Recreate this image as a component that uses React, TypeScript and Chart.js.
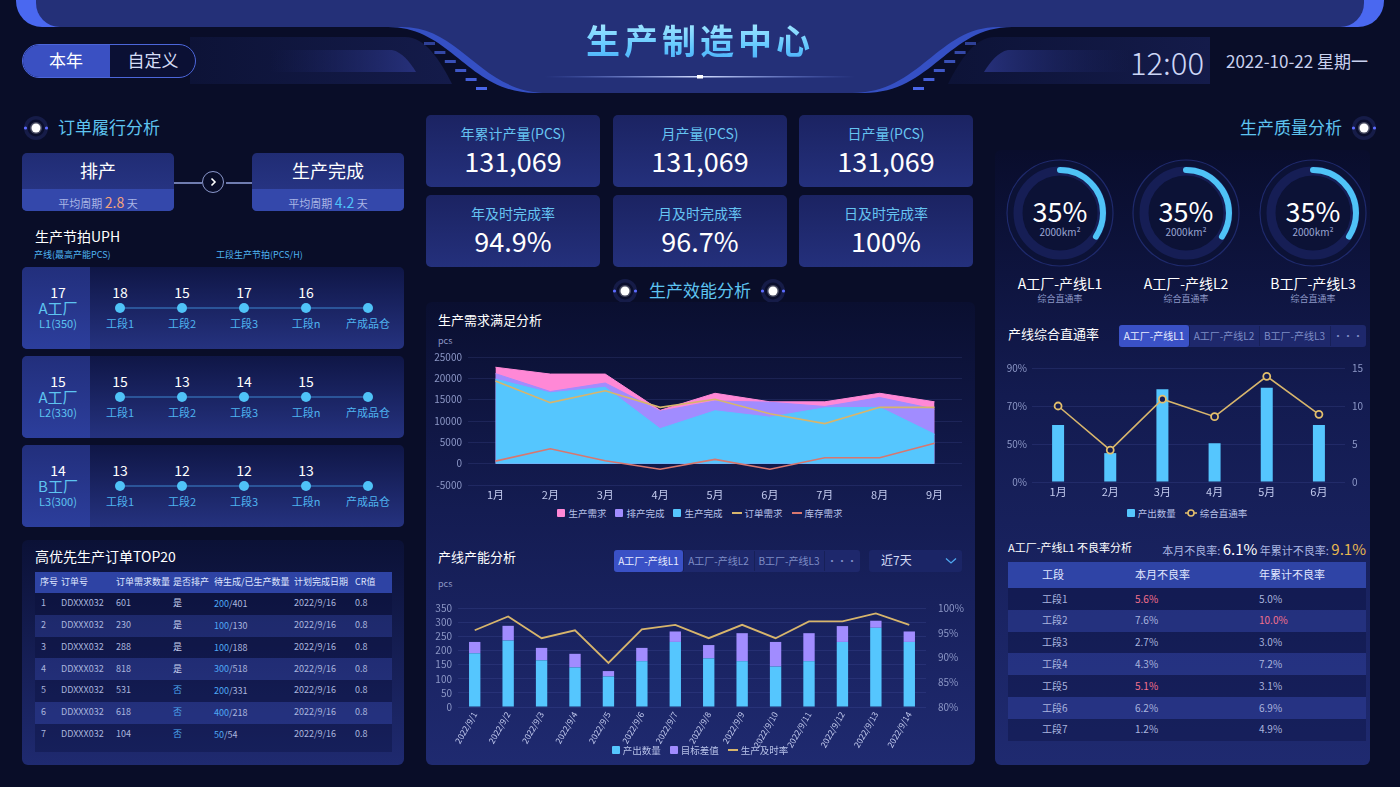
import React, { useEffect, useRef } from 'react';
import { Chart, registerables } from 'chart.js';

Chart.register(...registerables);

const FONT = '"Noto Sans CJK SC","Noto Sans",sans-serif';

// ---------- 生产需求满足分析 ----------
const demandMonths = ['1月', '2月', '3月', '4月', '5月', '6月', '7月', '8月', '9月'];
const demandSeriesNames = ['生产需求', '排产完成', '生产完成', '订单需求', '库存需求'];
const prodDemand = [22600, 21000, 21000, 12500, 16500, 14500, 14500, 16500, 14500];
const schedDone = [21100, 16900, 18900, 12300, 14700, 14400, 13400, 15500, 12800];
const prodDone = [19800, 16600, 17900, 8200, 12400, 10900, 13100, 13200, 6900];
const orderDemand = [19400, 14300, 17100, 13200, 15100, 11700, 9400, 13200, 13200];
const stockDemand = [600, 3500, 700, -1300, 1000, -1300, 1400, 1400, 4800];

// ---------- 产线产能分析 ----------
const capDates = ['2022/9/1', '2022/9/2', '2022/9/3', '2022/9/4', '2022/9/5', '2022/9/6', '2022/9/7',
  '2022/9/8', '2022/9/9', '2022/9/10', '2022/9/11', '2022/9/12', '2022/9/13', '2022/9/14'];
const capSeriesNames = ['产出数量', '目标差值', '生产及时率'];
const capOutput = [190, 235, 165, 140, 108, 162, 230, 172, 162, 143, 162, 230, 280, 230];
const capGap = [40, 52, 44, 48, 19, 47, 37, 47, 99, 87, 99, 56, 25, 37];
const capOnTime = [95.5, 98.3, 93.9, 95.5, 88.9, 95.7, 96.6, 93.9, 96.6, 93.9, 97.3, 97.3, 98.9, 96.6];

// ---------- 产线综合直通率 ----------
const passMonths = ['1月', '2月', '3月', '4月', '5月', '6月'];
const passSeriesNames = ['产出数量', '综合直通率'];
const passOutput = [7.5, 3.8, 12.2, 5.1, 12.4, 7.5];
const passRate = [10.0, 4.2, 10.9, 8.6, 13.9, 8.9];
const passLeftTicks = ['0%', '50%', '70%', '90%'];

// ---------- 其它面板数据 ----------
const kpiLabels = ['年累计产量(PCS)', '月产量(PCS)', '日产量(PCS)', '年及时完成率', '月及时完成率', '日及时完成率'];
const kpiValues = ['131,069', '131,069', '131,069', '94.9%', '96.7%', '100%'];

const uphTotals = ['17', '15', '14'];
const uphFactories = ['A工厂', 'A工厂', 'B工厂'];
const uphLineNames = ['L1(350)', 'L2(330)', 'L3(300)'];
const uphStations = [['18', '15', '17', '16'], ['15', '13', '14', '15'], ['13', '12', '12', '13']];
const stationNames = ['工段1', '工段2', '工段3', '工段n', '产成品仓'];

const orderHeaders = ['序号', '订单号', '订单需求数量', '是否排产', '待生成/已生产数量', '计划完成日期', 'CR值'];
const orderQty = ['601', '230', '288', '818', '531', '618', '104'];
const orderScheduled = ['是', '是', '是', '是', '否', '否', '否'];
const orderPending = ['200', '100', '100', '300', '200', '400', '50'];
const orderDoneQty = ['401', '130', '188', '518', '331', '218', '54'];

const gaugeValues = [35, 35, 35];
const gaugeNames = ['A工厂-产线L1', 'A工厂-产线L2', 'B工厂-产线L3'];

const defectStations = ['工段1', '工段2', '工段3', '工段4', '工段5', '工段6', '工段7'];
const defectMonth = ['5.6%', '7.6%', '2.7%', '4.3%', '5.1%', '6.2%', '1.2%'];
const defectYear = ['5.0%', '10.0%', '3.0%', '7.2%', '3.1%', '6.9%', '4.9%'];
const defectMonthAlert = [true, false, false, false, true, false, false];
const defectYearAlert = [false, true, false, false, false, false, false];

// ---------- colours ----------
const C_PINK = '#ff88d6';
const C_PURPLE = '#a18cff';
const C_CYAN = '#55c6fe';
const C_GOLD = '#d7b56c';
const C_SALMON = '#d8776f';

// ---------- helpers ----------
type TP = { x: number; y: number; size: number; color: string; children: any; anchor?: 'start' | 'middle' | 'end'; weight?: number; style?: any };
function T({ x, y, size, color, children, anchor = 'start', weight = 400, style }: TP) {
  return (
    <div style={{
      position: 'absolute', left: x, top: y - size * 0.65, fontSize: size, lineHeight: `${size * 1.2}px`,
      color, whiteSpace: 'nowrap', fontWeight: weight, fontFamily: FONT,
      transform: anchor === 'middle' ? 'translateX(-50%)' : anchor === 'end' ? 'translateX(-100%)' : undefined,
      ...style,
    }}>{children}</div>
  );
}

function Box({ x, y, w, h, bg, r = 0, style }: any) {
  return <div style={{ position: 'absolute', left: x, top: y, width: w, height: h, background: bg, borderRadius: r, ...style }} />;
}

type LegendItem = { label: string; color: string; kind: 'rect' | 'line' | 'dot' };
function Legend({ cx, y, items }: { cx: number; y: number; items: LegendItem[] }) {
  return (
    <div style={{
      position: 'absolute', left: cx - 250, width: 500, top: y - 8, height: 16, display: 'flex',
      justifyContent: 'center', alignItems: 'center', gap: 9, fontFamily: FONT, fontSize: 9.5,
      color: '#b7c1e8', whiteSpace: 'nowrap',
    }}>
      {items.map((it, i) => (
        <div key={i} style={{ display: 'flex', alignItems: 'center', gap: 3 }}>
          {it.kind === 'rect' && <div style={{ width: 8, height: 8, background: it.color, borderRadius: 1 }} />}
          {it.kind === 'line' && <div style={{ width: 10, height: 2, background: it.color }} />}
          {it.kind === 'dot' && (
            <svg width={12} height={10}>
              <line x1={0} y1={5} x2={12} y2={5} stroke={it.color} strokeWidth={1.5} />
              <circle cx={6} cy={5} r={3} fill="#141b52" stroke={it.color} strokeWidth={1.6} />
            </svg>
          )}
          <span style={{ lineHeight: '14px' }}>{it.label}</span>
        </div>
      ))}
    </div>
  );
}

function SecIcon({ x, y }: { x: number; y: number }) {
  return (
    <svg style={{ position: 'absolute', left: x - 15, top: y - 15 }} width={30} height={30}>
      <circle cx={15} cy={15} r={12} fill="#161c48" />
      <circle cx={15} cy={15} r={8.5} fill="#0a0e2c" />
      <circle cx={15} cy={15} r={6} fill="#ffffff" opacity={0.25} />
      <circle cx={15} cy={15} r={4.5} fill="#ffffff" />
      <circle cx={4.5} cy={15} r={1.6} fill="#5d6cff" />
      <circle cx={25.5} cy={15} r={1.6} fill="#5d6cff" />
    </svg>
  );
}

function Tabs({ x, y, widths, labels, h = 22 }: { x: number; y: number; widths: number[]; labels: string[]; h?: number }) {
  let cx = x;
  const total = widths.reduce((a, b) => a + b, 0);
  return (
    <>
      <Box x={x} y={y} w={total} h={h} bg="#1e286c" r={3} />
      {widths.map((w, i) => {
        const left = cx;
        cx += w;
        return (
          <React.Fragment key={i}>
            {i === 0 && <Box x={left} y={y} w={w} h={h} bg="#3a51c6" r={3} />}
            {i > 0 && <Box x={left} y={y + 1} w={1} h={h - 2} bg="#172058" />}
            <T x={left + w / 2} y={y + h / 2} size={10} color={i === 0 ? '#e8ecff' : '#7f8dc6'} anchor="middle">{labels[i]}</T>
          </React.Fragment>
        );
      })}
    </>
  );
}

function Gauge({ cx, cy, pct }: { cx: number; cy: number; pct: number }) {
  const R = 42;
  const C = 2 * Math.PI * R;
  return (
    <svg style={{ position: 'absolute', left: cx - 56, top: cy - 56 }} width={112} height={112}>
      <circle cx={56} cy={56} r={53} fill="#0c1236" stroke="#1f2a6c" strokeWidth={1.2} />
      <circle cx={56} cy={56} r={R} fill="none" stroke="#161e55" strokeWidth={9} />
      <circle cx={56} cy={56} r={R + 1} fill="none" stroke="#4fc3f7" strokeWidth={6} strokeLinecap="round"
        strokeDasharray={`${(C * pct) / 100} ${C * 2}`} transform="rotate(-90 56 56)" />
    </svg>
  );
}

function useChart(build: () => any) {
  const ref = useRef<HTMLCanvasElement>(null);
  useEffect(() => {
    const chart = new Chart(ref.current as HTMLCanvasElement, build());
    return () => chart.destroy();
  }, []);
  return ref;
}

const gridColor = 'rgba(110,130,220,0.14)';
const axisTick = '#8c97c6';

function DemandChart() {
  const ref = useChart(() => ({
    type: 'line',
    data: {
      labels: demandMonths,
      datasets: [
        { label: demandSeriesNames[0], data: prodDemand, fill: 'origin', backgroundColor: C_PINK, borderColor: C_PINK, borderWidth: 1, order: 3 },
        { label: demandSeriesNames[1], data: schedDone, fill: 'origin', backgroundColor: C_PURPLE, borderColor: C_PURPLE, borderWidth: 1, order: 2 },
        { label: demandSeriesNames[2], data: prodDone, fill: 'origin', backgroundColor: C_CYAN, borderColor: C_CYAN, borderWidth: 1, order: 1 },
        { label: demandSeriesNames[3], data: orderDemand, fill: false, borderColor: C_GOLD, borderWidth: 1.6, order: 0 },
        { label: demandSeriesNames[4], data: stockDemand, fill: false, borderColor: C_SALMON, borderWidth: 1.6, order: 0 },
      ],
    },
    options: {
      animation: false, responsive: false, devicePixelRatio: 1,
      layout: { padding: { top: 8, right: 13, left: 0, bottom: 0 } },
      elements: { line: { tension: 0 }, point: { radius: 0 } },
      plugins: { legend: { display: false }, tooltip: { enabled: false } },
      scales: {
        x: {
          offset: true, grid: { display: false, drawTicks: false }, border: { display: false },
          ticks: { color: '#c3cbef', font: { family: FONT, size: 11 }, padding: 3 },
          afterFit: (s: any) => { s.height = 18; },
        },
        y: {
          min: -5000, max: 25000,
          ticks: { stepSize: 5000, autoSkip: false, color: axisTick, font: { family: FONT, size: 10 }, padding: 6, callback: (v: any) => String(v) },
          grid: { color: gridColor, drawTicks: false }, border: { display: false },
          afterFit: (s: any) => { s.width = 42; },
        },
      },
    },
  }));
  return <canvas ref={ref} width={549} height={158} style={{ position: 'absolute', left: 426, top: 345, width: 549, height: 158 }} />;
}

function CapacityChart() {
  const ref = useChart(() => ({
    type: 'bar',
    data: {
      labels: capDates,
      datasets: [
        { type: 'bar', label: capSeriesNames[0], data: capOutput, backgroundColor: C_CYAN, stack: 's', order: 1, barPercentage: 0.34, categoryPercentage: 1 },
        { type: 'bar', label: capSeriesNames[1], data: capGap, backgroundColor: C_PURPLE, stack: 's', order: 1, barPercentage: 0.34, categoryPercentage: 1 },
        { type: 'line', label: capSeriesNames[2], data: capOnTime, yAxisID: 'y1', borderColor: C_GOLD, borderWidth: 1.8, pointRadius: 0, tension: 0, order: 0 },
      ],
    },
    options: {
      animation: false, responsive: false, devicePixelRatio: 1,
      layout: { padding: { top: 8, right: 0, left: 0, bottom: 0 } },
      plugins: { legend: { display: false }, tooltip: { enabled: false } },
      scales: {
        x: {
          stacked: true, offset: true, grid: { display: false, drawTicks: false }, border: { display: false },
          ticks: { color: '#c3cbef', font: { family: FONT, size: 8.5 }, maxRotation: 60, minRotation: 60, padding: 3, autoSkip: false },
          afterFit: (s: any) => { s.height = 42; },
        },
        y: {
          stacked: true, min: 0, max: 350,
          ticks: { stepSize: 50, autoSkip: false, color: axisTick, font: { family: FONT, size: 10 }, padding: 6 },
          grid: { color: gridColor, drawTicks: false }, border: { display: false },
          afterFit: (s: any) => { s.width = 32; },
        },
        y1: {
          position: 'right', min: 80, max: 100,
          ticks: { stepSize: 5, autoSkip: false, color: axisTick, font: { family: FONT, size: 10 }, padding: 12, callback: (v: any) => `${v}%` },
          grid: { display: false, drawTicks: false }, border: { display: false },
          afterFit: (s: any) => { s.width = 49; },
        },
      },
    },
  }));
  return <canvas ref={ref} width={549} height={159} style={{ position: 'absolute', left: 426, top: 590, width: 549, height: 159 }} />;
}

function PassRateChart() {
  const ref = useChart(() => ({
    type: 'bar',
    data: {
      labels: passMonths,
      datasets: [
        { type: 'bar', label: passSeriesNames[0], data: passOutput, backgroundColor: C_CYAN, order: 1, barPercentage: 0.23, categoryPercentage: 1 },
        { type: 'line', label: passSeriesNames[1], data: passRate, yAxisID: 'y1', borderColor: C_GOLD, borderWidth: 1.6, tension: 0,
          pointRadius: 3.5, pointBackgroundColor: '#141b52', pointBorderColor: '#e3bf6c', pointBorderWidth: 1.8, order: 0 },
      ],
    },
    options: {
      animation: false, responsive: false, devicePixelRatio: 1,
      layout: { padding: { top: 9, right: 0, left: 0, bottom: 0 } },
      plugins: { legend: { display: false }, tooltip: { enabled: false } },
      scales: {
        x: {
          offset: true, grid: { display: false, drawTicks: false }, border: { display: false },
          ticks: { color: '#c3cbef', font: { family: FONT, size: 11 }, padding: 3 },
          afterFit: (s: any) => { s.height = 18; },
        },
        y: {
          min: 0, max: 15,
          ticks: { stepSize: 5, autoSkip: false, color: axisTick, font: { family: FONT, size: 10 }, padding: 5, callback: (v: any) => passLeftTicks[Math.round(v / 5)] },
          grid: { color: gridColor, drawTicks: false }, border: { display: false },
          afterFit: (s: any) => { s.width = 32; },
        },
        y1: {
          position: 'right', min: 0, max: 15,
          ticks: { stepSize: 5, autoSkip: false, color: axisTick, font: { family: FONT, size: 10 }, padding: 7 },
          grid: { display: false, drawTicks: false }, border: { display: false },
          afterFit: (s: any) => { s.width = 25; },
        },
      },
    },
  }));
  return <canvas ref={ref} width={370} height={145} style={{ position: 'absolute', left: 1000, top: 355, width: 370, height: 145 }} />;
}

function Header() {
  const dashesL = [0, 1, 2, 3, 4, 5];
  return (
    <>
      <svg style={{ position: 'absolute', left: 0, top: 0 }} width={1400} height={100}>
        <defs>
          <linearGradient id="tabL" x1="0" x2="1" y1="0" y2="0">
            <stop offset="0" stopColor="#0d1337" />
            <stop offset="1" stopColor="#141b4a" />
          </linearGradient>
          <linearGradient id="tabLi" x1="0" x2="1" y1="0" y2="0">
            <stop offset="0" stopColor="#1c2564" stopOpacity="0" />
            <stop offset="1" stopColor="#26307a" />
          </linearGradient>
          <linearGradient id="tabRi" x1="1" x2="0" y1="0" y2="0">
            <stop offset="0" stopColor="#1c2564" stopOpacity="0" />
            <stop offset="1" stopColor="#26307a" />
          </linearGradient>
          <linearGradient id="uline" x1="0" x2="1" y1="0" y2="0">
            <stop offset="0" stopColor="#6d8cff" stopOpacity="0" />
            <stop offset="0.5" stopColor="#d6e0ff" />
            <stop offset="1" stopColor="#6d8cff" stopOpacity="0" />
          </linearGradient>
        </defs>
        <rect x={16} y={-40} width={1368} height={67} rx={26} fill="#4a68f0" />
        <rect x={36} y={-40} width={1328} height={67} rx={24} fill="#243078" />
        <path d="M 190 37 L 405 37 C 425 37 440 60 452 84 L 190 84 Z" fill="url(#tabL)" />
        <path d="M 270 50 L 392 50 C 402 52 410 62 416 72 L 270 72 Z" fill="url(#tabLi)" />
        <path d="M 1210 37 L 995 37 C 975 37 960 60 948 84 L 1210 84 Z" fill="url(#tabL)" />
        <path d="M 1130 50 L 1008 50 C 998 52 990 62 984 72 L 1130 72 Z" fill="url(#tabRi)" />
        <path d="M 388 27 C 452 27 468 93 536 93 L 864 93 C 932 93 948 27 1012 27 Z" fill="#3550c4" />
        <path d="M 402 27 C 462 27 480 93 548 93 L 852 93 C 920 93 938 27 998 27 Z" fill="#243078" />
        {dashesL.map((i) => (
          <rect key={'l' + i} x={424 + i * 10.4} y={42 + i * 9} width={11} height={3} fill="#4d6cf2" opacity={0.55 + i * 0.08} />
        ))}
        {dashesL.map((i) => (
          <rect key={'r' + i} x={965 - i * 10.4} y={42 + i * 9} width={11} height={3} fill="#4d6cf2" opacity={0.55 + i * 0.08} />
        ))}
        <rect x={545} y={76} width={310} height={1.5} fill="url(#uline)" />
        <rect x={697} y={75} width={6} height={3.5} fill="#ffffff" />
      </svg>
      <div style={{
        position: 'absolute', left: 0, width: 1400, top: 17, textAlign: 'center', fontFamily: FONT, fontSize: 34,
        fontWeight: 700, letterSpacing: 4, lineHeight: '46px',
      }}>
        <span style={{ background: 'linear-gradient(180deg,#b4f0ff 0%,#5cc4ff 70%,#4aa8f5 100%)', WebkitBackgroundClip: 'text', backgroundClip: 'text', color: 'transparent' }}>生产制造中心</span>
      </div>
      <div style={{ position: 'absolute', left: 22, top: 44, width: 172, height: 32, borderRadius: 17, border: '1px solid #4c66da', background: '#0b1034', overflow: 'hidden' }}>
        <div style={{ position: 'absolute', left: 0, top: 0, width: 87, height: 32, background: '#3a50c2' }} />
      </div>
      <T x={66} y={61} size={17} color="#ffffff" anchor="middle">本年</T>
      <T x={153} y={61} size={17} color="#d6dcf5" anchor="middle">自定义</T>
      <T x={1167} y={63} size={31} color="#cdd6f6" anchor="middle" weight={300}>12:00</T>
      <T x={1297} y={62} size={17} color="#c9d1ef" anchor="middle">2022-10-22 星期一</T>
    </>
  );
}

function LeftColumn() {
  const stX = [120, 182, 244, 306, 368];
  const rowTops = [267, 356, 445];
  return (
    <>
      <SecIcon x={36} y={128} />
      <T x={58} y={128} size={17} color="#5ec4f0">订单履行分析</T>
      {[{ x: 22, t: '排产', v: '2.8', c: '#f2a27c' }, { x: 252, t: '生产完成', v: '4.2', c: '#4fc3f7' }].map((c, i) => (
        <React.Fragment key={i}>
          <Box x={c.x} y={153} w={152} h={58} r={5} bg="linear-gradient(180deg,#202c74,#2a388a)" />
          <Box x={c.x} y={189} w={152} h={22} bg="#3448ab" style={{ borderRadius: '0 0 5px 5px' }} />
          <T x={c.x + 76} y={172} size={18} color="#ffffff" anchor="middle">{c.t}</T>
          <div style={{ position: 'absolute', left: c.x, width: 152, top: 192, textAlign: 'center', fontFamily: FONT, whiteSpace: 'nowrap', lineHeight: '18px' }}>
            <span style={{ fontSize: 11, color: '#aab6e6' }}>平均周期 </span>
            <span style={{ fontSize: 14, color: c.c }}>{c.v}</span>
            <span style={{ fontSize: 11, color: '#aab6e6' }}> 天</span>
          </div>
        </React.Fragment>
      ))}
      <Box x={174} y={182} w={28} h={1.5} bg="#6f7cb0" />
      <Box x={226} y={182} w={26} h={1.5} bg="#6f7cb0" />
      <div style={{ position: 'absolute', left: 202, top: 171, width: 22, height: 22, borderRadius: 12, border: '1.5px solid #8a97cc', boxSizing: 'border-box' }} />
      <svg style={{ position: 'absolute', left: 202, top: 171 }} width={22} height={22}>
        <polyline points="9.5,7.5 13,11 9.5,14.5" fill="none" stroke="#ffffff" strokeWidth={1.6} />
      </svg>

      <T x={35} y={237} size={14} color="#ffffff">生产节拍UPH</T>
      <T x={34} y={256} size={9} color="#4fb4f0">产线(最高产能PCS)</T>
      <T x={216} y={256} size={9} color="#4fb4f0">工段生产节拍(PCS/H)</T>

      {rowTops.map((top, r) => (
        <React.Fragment key={r}>
          <Box x={22} y={top} w={382} h={82} r={5} bg="linear-gradient(180deg,#0f1646,#25327f)" />
          <Box x={22} y={top} w={68} h={82} bg="linear-gradient(180deg,#222f7c,#2c3e9c)" style={{ borderRadius: '5px 0 0 5px' }} />
          <T x={58} y={top + 26} size={14} color="#ffffff" anchor="middle">{uphTotals[r]}</T>
          <T x={58} y={top + 42} size={15} color="#5ec4f0" anchor="middle">{uphFactories[r]}</T>
          <T x={58} y={top + 57} size={11} color="#5ec4f0" anchor="middle">{uphLineNames[r]}</T>
          <Box x={120} y={top + 40} w={248} h={2} bg="#2b5599" />
          {stX.map((sx, k) => (
            <React.Fragment key={k}>
              {k < 4 && <T x={sx} y={top + 26} size={14} color="#ffffff" anchor="middle">{uphStations[r][k]}</T>}
              <div style={{ position: 'absolute', left: sx - 5, top: top + 36, width: 10, height: 10, borderRadius: 5, background: '#4fc3f7' }} />
              <T x={sx} y={top + 57} size={11} color="#4fb4f0" anchor="middle">{stationNames[k]}</T>
            </React.Fragment>
          ))}
        </React.Fragment>
      ))}

      <Box x={22} y={540} w={382} h={225} r={6} bg="linear-gradient(180deg,#0b1136,#1f2a70)" />
      <T x={35} y={557} size={14} color="#ffffff">高优先生产订单TOP20</T>
      <Box x={35} y={572} w={357} h={21} bg="#2e43a4" />
      {[40, 61, 116, 173, 214, 294, 355].map((hx, i) => (
        <T key={i} x={hx} y={582.5} size={9} color="#dfe6ff">{orderHeaders[i]}</T>
      ))}
      {orderQty.map((q, i) => {
        const ry = 593 + i * 21.8;
        return (
          <React.Fragment key={i}>
            <Box x={35} y={ry} w={357} h={21.8} bg={i % 2 === 0 ? 'rgba(10,14,56,0.35)' : 'rgba(60,80,190,0.30)'} />
            <T x={41} y={ry + 11} size={9} color="#aab5de">{String(i + 1)}</T>
            <T x={61} y={ry + 11} size={9} color="#aab5de">DDXXX032</T>
            <T x={116} y={ry + 11} size={9} color="#aab5de">{q}</T>
            <T x={173} y={ry + 11} size={9} color={orderScheduled[i] === '是' ? '#c7cfee' : '#4fa8f0'}>{orderScheduled[i]}</T>
            <div style={{ position: 'absolute', left: 214, top: ry + 11 - 6, fontSize: 9, lineHeight: '11px', fontFamily: FONT, whiteSpace: 'nowrap' }}>
              <span style={{ color: '#4fa8f5' }}>{orderPending[i]}</span>
              <span style={{ color: '#aab5de' }}>/{orderDoneQty[i]}</span>
            </div>
            <T x={294} y={ry + 11} size={9} color="#aab5de">2022/9/16</T>
            <T x={355} y={ry + 11} size={9} color="#aab5de">0.8</T>
          </React.Fragment>
        );
      })}
      <Box x={35} y={745.6} w={357} h={6.5} bg="rgba(10,14,56,0.35)" />
    </>
  );
}

function MiddleColumn() {
  const cols = [426, 613, 799];
  return (
    <>
      {kpiLabels.map((l, i) => {
        const x = cols[i % 3];
        const y = i < 3 ? 115 : 195;
        return (
          <React.Fragment key={i}>
            <Box x={x} y={y} w={174} h={72} r={5} bg="linear-gradient(180deg,#1b2362,#24307c)" />
            <T x={x + 87} y={y + 19} size={14} color="#66c4f2" anchor="middle">{l}</T>
            <T x={x + 87} y={y + 48} size={27} color="#ffffff" anchor="middle">{kpiValues[i]}</T>
          </React.Fragment>
        );
      })}
      <SecIcon x={625} y={291} />
      <SecIcon x={773} y={291} />
      <T x={700} y={291} size={17} color="#5ec4f0" anchor="middle">生产效能分析</T>

      <Box x={426} y={302} w={549} h={463} r={6} bg="linear-gradient(180deg,#0a0f30 0%,#141c52 45%,#1f2a70 100%)" />
      <T x={438} y={320} size={13} color="#ffffff">生产需求满足分析</T>
      <T x={438} y={342} size={9} color="#8c97c6">pcs</T>
      <DemandChart />
      <Legend cx={700} y={513} items={[
        { label: demandSeriesNames[0], color: C_PINK, kind: 'rect' },
        { label: demandSeriesNames[1], color: C_PURPLE, kind: 'rect' },
        { label: demandSeriesNames[2], color: C_CYAN, kind: 'rect' },
        { label: demandSeriesNames[3], color: C_GOLD, kind: 'line' },
        { label: demandSeriesNames[4], color: C_SALMON, kind: 'line' },
      ]} />

      <T x={438} y={557} size={13} color="#ffffff">产线产能分析</T>
      <Tabs x={614} y={550} widths={[69, 71, 70, 36]} labels={['A工厂-产线L1', 'A工厂-产线L2', 'B工厂-产线L3', '···']} />
      <Box x={869} y={550} w={93} h={22} r={3} bg="#1b2566" />
      <T x={881} y={561} size={12} color="#d3dbf6">近7天</T>
      <svg style={{ position: 'absolute', left: 945, top: 557 }} width={12} height={8}>
        <polyline points="1,1.5 6,6 11,1.5" fill="none" stroke="#4fa8f0" strokeWidth={1.3} />
      </svg>
      <T x={438} y={585} size={9} color="#8c97c6">pcs</T>
      <CapacityChart />
      <Legend cx={700} y={750} items={[
        { label: capSeriesNames[0], color: C_CYAN, kind: 'rect' },
        { label: capSeriesNames[1], color: C_PURPLE, kind: 'rect' },
        { label: capSeriesNames[2], color: C_GOLD, kind: 'line' },
      ]} />
    </>
  );
}

function RightColumn() {
  const gx = [1060, 1186, 1313];
  return (
    <>
      <Box x={995} y={150} w={375} h={615} r={6} bg="linear-gradient(180deg,#090d2c 0%,#131b50 40%,#1f2a70 100%)" />
      <T x={1342} y={128} size={17} color="#5ec4f0" anchor="end">生产质量分析</T>
      <SecIcon x={1364} y={128} />
      {gx.map((x, i) => (
        <React.Fragment key={i}>
          <Gauge cx={x} cy={213} pct={gaugeValues[i]} />
          <T x={x} y={213} size={27} color="#ffffff" anchor="middle">{`${gaugeValues[i]}%`}</T>
          <T x={x} y={232} size={10} color="#9aa5d2" anchor="middle">2000km²</T>
          <T x={x} y={284} size={14} color="#ffffff" anchor="middle">{gaugeNames[i]}</T>
          <T x={x} y={300} size={9} color="#8c97c6" anchor="middle">综合直通率</T>
        </React.Fragment>
      ))}
      <T x={1008} y={334} size={13} color="#ffffff">产线综合直通率</T>
      <Tabs x={1119} y={325} widths={[70, 70, 71, 36]} labels={['A工厂-产线L1', 'A工厂-产线L2', 'B工厂-产线L3', '···']} />
      <PassRateChart />
      <Legend cx={1187} y={513} items={[
        { label: passSeriesNames[0], color: C_CYAN, kind: 'rect' },
        { label: passSeriesNames[1], color: '#e3bf6c', kind: 'dot' },
      ]} />

      <T x={1008} y={548} size={11} color="#ffffff">A工厂-产线L1 不良率分析</T>
      <div style={{ position: 'absolute', right: 1400 - 1366, top: 538, fontFamily: FONT, whiteSpace: 'nowrap', lineHeight: '20px' }}>
        <span style={{ fontSize: 11, color: '#a9b5e2' }}>本月不良率: </span>
        <span style={{ fontSize: 15, color: '#ffffff' }}>6.1%</span>
        <span style={{ fontSize: 11, color: '#a9b5e2' }}>  年累计不良率: </span>
        <span style={{ fontSize: 15, color: '#e8b850' }}>9.1%</span>
      </div>
      <Box x={1008} y={562} w={358} h={26} bg="#2f44a6" />
      <T x={1042} y={575} size={11} color="#e0e6ff">工段</T>
      <T x={1135} y={575} size={11} color="#e0e6ff">本月不良率</T>
      <T x={1259} y={575} size={11} color="#e0e6ff">年累计不良率</T>
      {defectStations.map((s, i) => {
        const ry = 588 + i * 21.8;
        return (
          <React.Fragment key={i}>
            <Box x={1008} y={ry} w={358} h={21.8} bg={i % 2 === 0 ? 'rgba(10,14,56,0.35)' : 'rgba(60,80,190,0.30)'} />
            <T x={1042} y={ry + 11} size={10} color="#a9b4de">{s}</T>
            <T x={1135} y={ry + 11} size={10} color={defectMonthAlert[i] ? '#f2708c' : '#a9b4de'}>{defectMonth[i]}</T>
            <T x={1259} y={ry + 11} size={10} color={defectYearAlert[i] ? '#f2708c' : '#a9b4de'}>{defectYear[i]}</T>
          </React.Fragment>
        );
      })}
    </>
  );
}

export default function App() {
  return (
    <div style={{ position: 'fixed', left: 0, top: 0, width: 1400, height: 787, overflow: 'hidden', background: '#090d28', fontFamily: FONT }}>
      <Header />
      <LeftColumn />
      <MiddleColumn />
      <RightColumn />
    </div>
  );
}
